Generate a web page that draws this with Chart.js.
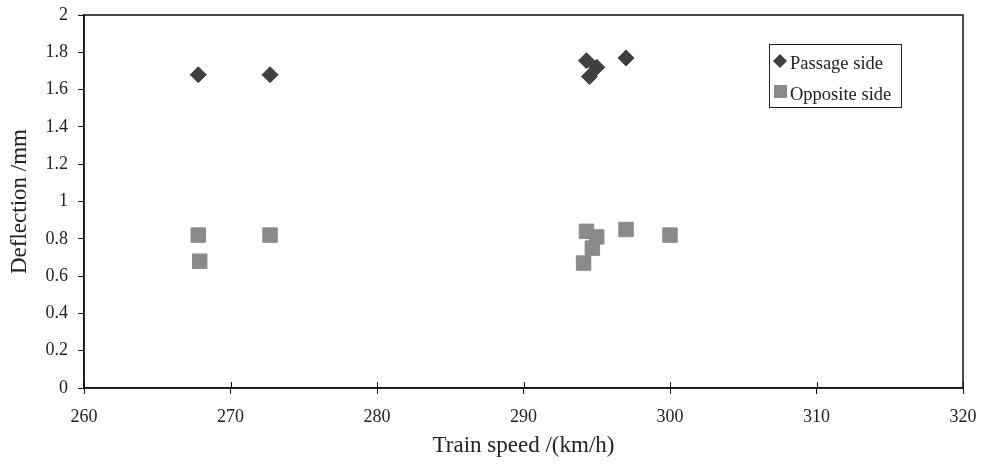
<!DOCTYPE html>
<html>
<head>
<meta charset="utf-8">
<script src="https://cdn.jsdelivr.net/npm/chart.js@4"></script>
<style>
html, body { margin: 0; padding: 0; background: #fff; }
#wrap { width: 982px; height: 464px; }
</style>
</head>
<body>
<div id="wrap"><canvas id="scatterChart"></canvas></div>
<script>
var passageSpeed = [267.8, 272.7, 294.3, 295.0, 294.5, 297.0];
var passageDefl = [1.68, 1.68, 1.755, 1.72, 1.67, 1.77];
var oppositeSpeed = [267.8, 267.9, 272.7, 294.3, 295.0, 294.7, 294.1, 297.0, 300.0];
var oppositeDefl = [0.82, 0.68, 0.82, 0.84, 0.81, 0.75, 0.67, 0.85, 0.82];
var xTickLabels = ['260', '270', '280', '290', '300', '310', '320'];
var yTickLabels = ['0', '0.2', '0.4', '0.6', '0.8', '1', '1.2', '1.4', '1.6', '1.8', '2'];

function toPoints(xs, ys) {
    return xs.map(function (x, i) { return { x: x, y: ys[i] }; });
}

Chart.defaults.font.family = "'Liberation Serif', 'Times New Roman', serif";
Chart.defaults.color = '#222';

// box round the plot area, inner half of the x ticks, and the legend inside the plot
var framePlugin = {
    id: 'frame',
    afterDraw: function (chart) {
        var ctx = chart.ctx, a = chart.chartArea;
        ctx.save();
        ctx.strokeStyle = '#111';
        ctx.lineWidth = 1.5;
        ctx.strokeRect(a.left, a.top, a.right - a.left, a.bottom - a.top);

        var xs = chart.scales.x;
        ctx.lineWidth = 1;
        xs.ticks.forEach(function (t) {
            var px = Math.round(xs.getPixelForValue(t.value)) + 0.5;
            ctx.beginPath();
            ctx.moveTo(px, a.bottom);
            ctx.lineTo(px, a.bottom - 6);
            ctx.stroke();
        });

        // legend
        var bx = a.right - 194, by = a.top + 29, bw = 132, bh = 63;
        ctx.lineWidth = 1;
        ctx.strokeStyle = '#222';
        ctx.strokeRect(bx + 0.5, by + 0.5, bw, bh);

        var d0 = chart.data.datasets[0], d1 = chart.data.datasets[1];
        ctx.fillStyle = d0.backgroundColor;
        var cx = bx + 11, cy = by + 17;
        ctx.beginPath();
        ctx.moveTo(cx, cy - 7);
        ctx.lineTo(cx + 7, cy);
        ctx.lineTo(cx, cy + 7);
        ctx.lineTo(cx - 7, cy);
        ctx.closePath();
        ctx.fill();

        ctx.fillStyle = d1.backgroundColor;
        ctx.fillRect(bx + 5, by + 41, 13, 13);

        ctx.fillStyle = '#222';
        ctx.font = "18.5px 'Liberation Serif', serif";
        ctx.textBaseline = 'alphabetic';
        ctx.textAlign = 'left';
        ctx.fillText(d0.label, bx + 21, by + 25);
        ctx.fillText(d1.label, bx + 21, by + 56);
        ctx.restore();
    }
};

var data = {
    datasets: [{
        label: 'Passage side',
        data: toPoints(passageSpeed, passageDefl),
        pointStyle: 'rectRot',
        pointRadius: 8,
        pointHoverRadius: 8,
        backgroundColor: '#404040',
        borderColor: '#404040',
        borderWidth: 1
    }, {
        label: 'Opposite side',
        data: toPoints(oppositeSpeed, oppositeDefl),
        pointStyle: 'rect',
        pointRadius: 10.2,
        pointHoverRadius: 10.2,
        backgroundColor: '#8a8a8a',
        borderColor: '#8a8a8a',
        borderWidth: 1
    }]
};

var config = {
    type: 'scatter',
    data: data,
    options: {
        responsive: true,
        maintainAspectRatio: false,
        animation: false,
        layout: { padding: { top: 15, right: 19, left: 0, bottom: 0 } },
        plugins: {
            legend: { display: false },
            tooltip: { enabled: false }
        },
        scales: {
            x: {
                type: 'linear',
                min: 260,
                max: 320,
                afterFit: function (s) {
                    s.height = 76;
                    s.paddingLeft = 0;
                    s.paddingRight = 0;
                },
                ticks: {
                    stepSize: 10,
                    padding: 12,
                    color: '#222',
                    font: { size: 18 },
                    callback: function (v, i) { return xTickLabels[i]; }
                },
                grid: { drawOnChartArea: false, tickLength: 6, color: '#111' },
                border: { color: '#111', width: 1.5 },
                title: {
                    display: true,
                    text: 'Train speed /(km/h)',
                    color: '#222',
                    font: { size: 23 },
                    padding: { top: 0, bottom: 4 }
                }
            },
            y: {
                min: 0,
                max: 2,
                afterFit: function (s) {
                    s.width = 84;
                    s.paddingTop = 0;
                    s.paddingBottom = 0;
                },
                ticks: {
                    stepSize: 0.2,
                    padding: 10,
                    color: '#222',
                    font: { size: 18 },
                    callback: function (v, i) { return yTickLabels[i]; }
                },
                grid: { drawOnChartArea: false, tickLength: 6, color: '#111' },
                border: { color: '#111', width: 1.5 },
                title: {
                    display: true,
                    text: 'Deflection /mm',
                    color: '#222',
                    font: { size: 23 },
                    padding: { top: 6, bottom: 0 }
                }
            }
        }
    },
    plugins: [framePlugin]
};

var scatterChart = new Chart(
    document.getElementById('scatterChart'),
    config
);
</script>
</body>
</html>
